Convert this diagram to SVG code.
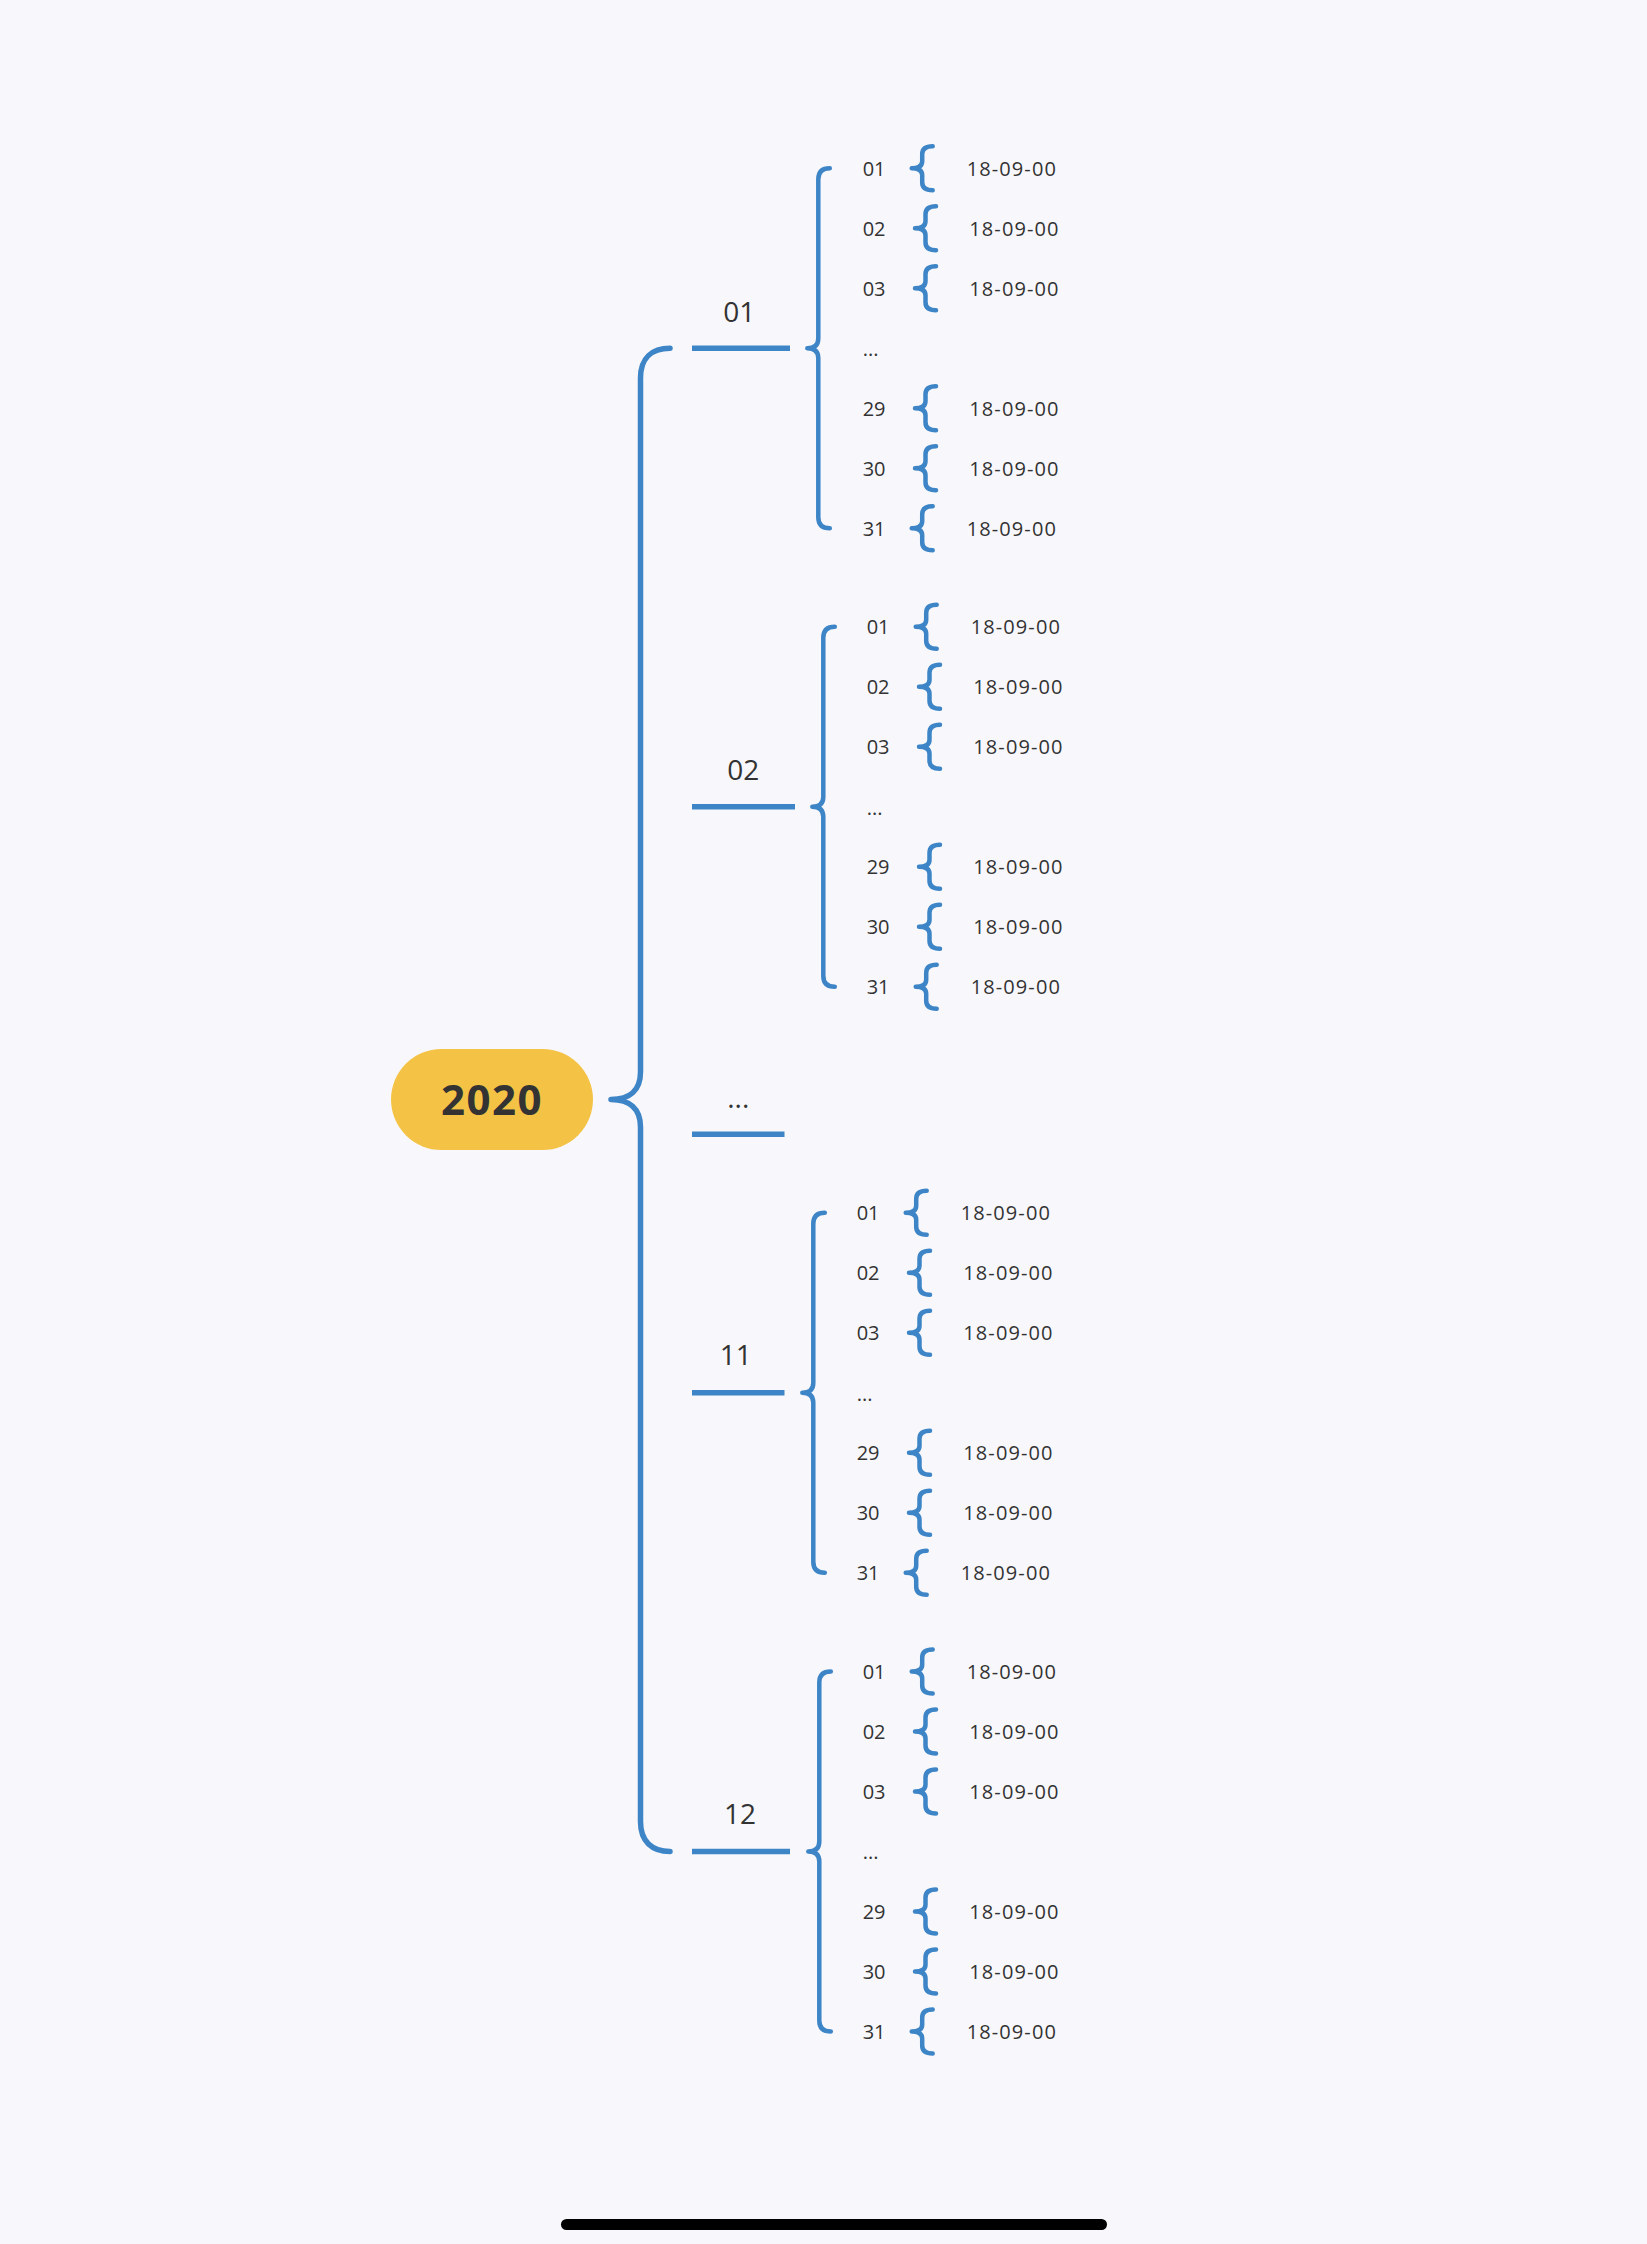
<svg xmlns="http://www.w3.org/2000/svg" xmlns:xlink="http://www.w3.org/1999/xlink" width="1647" height="2244" viewBox="0 0 1647 2244">
<style>
.br{fill:none;stroke:#3D85C6;stroke-width:4.5;stroke-linecap:round;stroke-linejoin:round}
.main{stroke-width:5.5}
.ul{stroke:#3D85C6;stroke-width:5.5;stroke-linecap:butt}
.t{font-family:"Open Sans","Liberation Sans",sans-serif;fill:#333333}
.d{font-size:20px}
.dt{font-size:20px;letter-spacing:1.1px}
.m{font-size:28px;text-anchor:middle}
.root{font-size:42px;font-weight:700;text-anchor:middle;letter-spacing:1.5px}
</style>
<defs>
<path id="db" d="M21,-22 Q10.5,-22 10.5,-14 L10.5,-7 Q10.5,0 0,0 Q10.5,0 10.5,7 L10.5,14 Q10.5,22 21,22"/>
<path id="sb" d="M22.5,-180 Q11,-180 11,-169 L11,-10 Q11,0 0,0 Q11,0 11,10 L11,169 Q11,180 22.5,180"/>
</defs>
<rect width="1647" height="2244" fill="#F8F8FC"/>

<g id="connectors">
<path class="br main" d="M670,348.3 C652,348.3 640.5,358 640.5,378 L640.5,1072 C640.5,1090 630,1099.5 611,1099.5 C630,1099.5 640.5,1109 640.5,1127 L640.5,1821.5 C640.5,1841.5 652,1851.5 670,1851.5"/>
<use href="#sb" class="br" x="807.3" y="348.3"/>
<use href="#sb" class="br" x="812.3" y="806.7"/>
<use href="#sb" class="br" x="802.3" y="1392.7"/>
<use href="#sb" class="br" x="808.3" y="1851.5"/>
<!-- month 01 day braces -->
<use href="#db" class="br" x="911.7" y="168.3"/>
<use href="#db" class="br" x="915" y="228.3"/>
<use href="#db" class="br" x="915" y="288.3"/>
<use href="#db" class="br" x="915" y="408.3"/>
<use href="#db" class="br" x="915" y="468.3"/>
<use href="#db" class="br" x="911.7" y="528.3"/>
<!-- month 02 -->
<use href="#db" class="br" x="915.7" y="626.7"/>
<use href="#db" class="br" x="919" y="686.7"/>
<use href="#db" class="br" x="919" y="746.7"/>
<use href="#db" class="br" x="919" y="866.7"/>
<use href="#db" class="br" x="919" y="926.7"/>
<use href="#db" class="br" x="915.7" y="986.7"/>
<!-- month 11 -->
<use href="#db" class="br" x="905.7" y="1212.7"/>
<use href="#db" class="br" x="909" y="1272.7"/>
<use href="#db" class="br" x="909" y="1332.7"/>
<use href="#db" class="br" x="909" y="1452.7"/>
<use href="#db" class="br" x="909" y="1512.7"/>
<use href="#db" class="br" x="905.7" y="1572.7"/>
<!-- month 12 -->
<use href="#db" class="br" x="911.7" y="1671.5"/>
<use href="#db" class="br" x="915" y="1731.5"/>
<use href="#db" class="br" x="915" y="1791.5"/>
<use href="#db" class="br" x="915" y="1911.5"/>
<use href="#db" class="br" x="915" y="1971.5"/>
<use href="#db" class="br" x="911.7" y="2031.5"/>
</g>

<g id="node-2020">
<rect x="391" y="1049" width="202" height="101" rx="50.5" fill="#F4C245"/>
<text class="t root" x="492" y="1115">2020</text>
</g>

<g id="month-01">
<text class="t m" x="739.3" y="321.7">01</text>
<line class="ul" x1="692" y1="348.3" x2="790" y2="348.3"/>
</g>
<g id="month-02">
<text class="t m" x="743.3" y="780">02</text>
<line class="ul" x1="692" y1="806.7" x2="795" y2="806.7"/>
</g>
<g id="month-more">
<text class="t m" x="738.3" y="1108">...</text>
<line class="ul" x1="692" y1="1134.3" x2="784.5" y2="1134.3"/>
</g>
<g id="month-11">
<text class="t m" x="735.7" y="1365">11</text>
<line class="ul" x1="692" y1="1392.7" x2="784.5" y2="1392.7"/>
</g>
<g id="month-12">
<text class="t m" x="740" y="1824.3">12</text>
<line class="ul" x1="692" y1="1851.5" x2="790" y2="1851.5"/>
</g>

<g id="days-01">
<g id="d01-01"><text class="t d" x="862.7" y="175.5">01</text></g>
<g id="d01-01-v"><text class="t dt" x="966.7" y="175.5">18-09-00</text></g>
<g id="d01-02"><text class="t d" x="862.7" y="235.5">02</text></g>
<g id="d01-02-v"><text class="t dt" x="969.3" y="235.5">18-09-00</text></g>
<g id="d01-03"><text class="t d" x="862.7" y="295.5">03</text></g>
<g id="d01-03-v"><text class="t dt" x="969.3" y="295.5">18-09-00</text></g>
<g id="d01-more"><text class="t d" x="862.7" y="356">...</text></g>
<g id="d01-29"><text class="t d" x="862.7" y="415.5">29</text></g>
<g id="d01-29-v"><text class="t dt" x="969.3" y="415.5">18-09-00</text></g>
<g id="d01-30"><text class="t d" x="862.7" y="475.5">30</text></g>
<g id="d01-30-v"><text class="t dt" x="969.3" y="475.5">18-09-00</text></g>
<g id="d01-31"><text class="t d" x="862.7" y="535.5">31</text></g>
<g id="d01-31-v"><text class="t dt" x="966.7" y="535.5">18-09-00</text></g>
</g>

<g id="days-02">
<g id="d02-01"><text class="t d" x="866.7" y="633.9">01</text></g>
<g id="d02-01-v"><text class="t dt" x="970.7" y="633.9">18-09-00</text></g>
<g id="d02-02"><text class="t d" x="866.7" y="693.9">02</text></g>
<g id="d02-02-v"><text class="t dt" x="973.3" y="693.9">18-09-00</text></g>
<g id="d02-03"><text class="t d" x="866.7" y="753.9">03</text></g>
<g id="d02-03-v"><text class="t dt" x="973.3" y="753.9">18-09-00</text></g>
<g id="d02-more"><text class="t d" x="866.7" y="814.5">...</text></g>
<g id="d02-29"><text class="t d" x="866.7" y="873.9">29</text></g>
<g id="d02-29-v"><text class="t dt" x="973.3" y="873.9">18-09-00</text></g>
<g id="d02-30"><text class="t d" x="866.7" y="933.9">30</text></g>
<g id="d02-30-v"><text class="t dt" x="973.3" y="933.9">18-09-00</text></g>
<g id="d02-31"><text class="t d" x="866.7" y="993.9">31</text></g>
<g id="d02-31-v"><text class="t dt" x="970.7" y="993.9">18-09-00</text></g>
</g>

<g id="days-11">
<g id="d11-01"><text class="t d" x="856.7" y="1219.9">01</text></g>
<g id="d11-01-v"><text class="t dt" x="960.7" y="1219.9">18-09-00</text></g>
<g id="d11-02"><text class="t d" x="856.7" y="1279.9">02</text></g>
<g id="d11-02-v"><text class="t dt" x="963.3" y="1279.9">18-09-00</text></g>
<g id="d11-03"><text class="t d" x="856.7" y="1339.9">03</text></g>
<g id="d11-03-v"><text class="t dt" x="963.3" y="1339.9">18-09-00</text></g>
<g id="d11-more"><text class="t d" x="856.7" y="1400.5">...</text></g>
<g id="d11-29"><text class="t d" x="856.7" y="1459.9">29</text></g>
<g id="d11-29-v"><text class="t dt" x="963.3" y="1459.9">18-09-00</text></g>
<g id="d11-30"><text class="t d" x="856.7" y="1519.9">30</text></g>
<g id="d11-30-v"><text class="t dt" x="963.3" y="1519.9">18-09-00</text></g>
<g id="d11-31"><text class="t d" x="856.7" y="1579.9">31</text></g>
<g id="d11-31-v"><text class="t dt" x="960.7" y="1579.9">18-09-00</text></g>
</g>

<g id="days-12">
<g id="d12-01"><text class="t d" x="862.7" y="1678.7">01</text></g>
<g id="d12-01-v"><text class="t dt" x="966.7" y="1678.7">18-09-00</text></g>
<g id="d12-02"><text class="t d" x="862.7" y="1738.7">02</text></g>
<g id="d12-02-v"><text class="t dt" x="969.3" y="1738.7">18-09-00</text></g>
<g id="d12-03"><text class="t d" x="862.7" y="1798.7">03</text></g>
<g id="d12-03-v"><text class="t dt" x="969.3" y="1798.7">18-09-00</text></g>
<g id="d12-more"><text class="t d" x="862.7" y="1859.3">...</text></g>
<g id="d12-29"><text class="t d" x="862.7" y="1918.7">29</text></g>
<g id="d12-29-v"><text class="t dt" x="969.3" y="1918.7">18-09-00</text></g>
<g id="d12-30"><text class="t d" x="862.7" y="1978.7">30</text></g>
<g id="d12-30-v"><text class="t dt" x="969.3" y="1978.7">18-09-00</text></g>
<g id="d12-31"><text class="t d" x="862.7" y="2038.7">31</text></g>
<g id="d12-31-v"><text class="t dt" x="966.7" y="2038.7">18-09-00</text></g>
</g>

<rect x="561" y="2219" width="546" height="11" rx="5.5" fill="#000000"/>
</svg>
